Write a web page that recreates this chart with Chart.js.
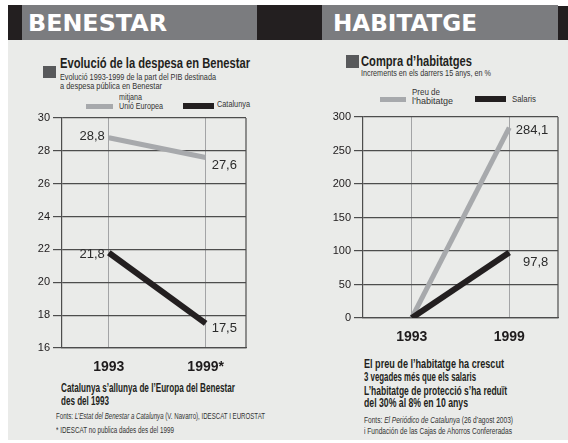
<!DOCTYPE html>
<html lang="ca">
<head>
<meta charset="utf-8">
<title>Benestar i habitatge</title>
<script src="https://cdn.jsdelivr.net/npm/chart.js@4.4.1/dist/chart.umd.min.js"></script>
<style>
  body { margin:0; width:568px; height:443px; background:#fff; position:relative; overflow:hidden;
         font-family:"Liberation Sans Narrow","Liberation Sans",sans-serif; color:#231f20; }
  .b { position:absolute; }
  .t { position:absolute; white-space:nowrap; transform-origin:0 50%; line-height:1; }
  .cap { font-family:"DejaVu Sans",sans-serif; font-weight:bold; color:#fff; font-size:23.5px; }
  .tit { font-weight:bold; font-size:15px; }
  .sub { font-size:9.5px; color:#333; }
  .neg { font-weight:bold; font-size:12.5px; }
  .fon { font-size:8.5px; color:#333; }
  canvas { position:absolute; }
</style>
</head>
<body>
<!-- barres de capçalera -->
<div class="b" style="left:8px;top:5px;width:14px;height:35px;background:#231f20"></div>
<div class="b" style="left:22px;top:5px;width:235px;height:35px;background:#7b7c7f"></div>
<div class="b" style="left:257px;top:5px;width:65px;height:35px;background:#231f20"></div>
<div class="b" style="left:322px;top:5px;width:236px;height:35px;background:#7b7c7f"></div>
<div class="b" style="left:558px;top:6px;width:10px;height:34px;background:#231f20"></div>
<div class="b" style="left:8px;top:40px;width:560px;height:400px;background:#eaebe9"></div>

<span class="t cap" style="left:28px;top:12px" data-w="139">BENESTAR</span>
<span class="t cap" style="left:333px;top:12px" data-w="144">HABITATGE</span>

<!-- BENESTAR -->
<div class="b" style="left:43px;top:66px;width:13px;height:12px;background:#58595b"></div>
<span class="t tit" style="left:60px;top:55px" data-w="190">Evolució de la despesa en Benestar</span>
<span class="t sub" style="left:60px;top:72px" data-w="156">Evolució 1993-1999 de la part del PIB destinada</span>
<span class="t sub" style="left:60px;top:81px" data-w="102">a despesa pública en Benestar</span>
<div class="b" style="left:86px;top:104px;width:27px;height:5px;background:#a7a9ac"></div>
<span class="t sub" style="left:119px;top:92px" data-w="23">mitjana</span>
<span class="t sub" style="left:119px;top:101px" data-w="44">Unió Europea</span>
<div class="b" style="left:183px;top:103px;width:31px;height:6px;background:#231f20"></div>
<span class="t sub" style="left:217px;top:99px" data-w="33">Catalunya</span>

<canvas id="grafBenestar" width="270" height="280" style="left:0;top:100px"></canvas>

<span class="t neg" style="left:61px;top:382px" data-w="174">Catalunya s’allunya de l’Europa del Benestar</span>
<span class="t neg" style="left:61px;top:395px" data-w="48">des del 1993</span>
<span class="t fon" style="left:56px;top:412px" data-w="209">Fonts: <i>L’Estat del Benestar a Catalunya</i> (V. Navarro), IDESCAT I EUROSTAT</span>
<span class="t fon" style="left:56px;top:426px" data-w="118">* IDESCAT no publica dades des del 1999</span>

<!-- HABITATGE -->
<div class="b" style="left:346px;top:55px;width:13px;height:13px;background:#58595b"></div>
<span class="t tit" style="left:361px;top:53px" data-w="111">Compra d’habitatges</span>
<span class="t sub" style="left:361px;top:68px" data-w="130">Increments en els darrers 15 anys, en %</span>
<div class="b" style="left:380px;top:97px;width:26px;height:5px;background:#a7a9ac"></div>
<span class="t sub" style="left:412px;top:87px" data-w="28">Preu de</span>
<span class="t sub" style="left:412px;top:96px" data-w="41">l’habitatge</span>
<div class="b" style="left:475px;top:96px;width:31px;height:6px;background:#231f20"></div>
<span class="t sub" style="left:512px;top:94px" data-w="24">Salaris</span>

<canvas id="grafHabitatge" width="284" height="250" style="left:284px;top:100px"></canvas>

<span class="t neg" style="left:364px;top:358px" data-w="140">El preu de l’habitatge ha crescut</span>
<span class="t neg" style="left:364px;top:371px" data-w="112">3 vegades més que els salaris</span>
<span class="t neg" style="left:364px;top:385px" data-w="143">L’habitatge de protecció s’ha reduït</span>
<span class="t neg" style="left:364px;top:397px" data-w="104">del 30% al 8% en 10 anys</span>
<span class="t fon" style="left:364px;top:416px" data-w="149">Fonts: <i>El Periódico de Catalunya</i> (26 d’agost 2003)</span>
<span class="t fon" style="left:364px;top:427px" data-w="148">i Fundación de las Cajas de Ahorros Confereradas</span>

<script>
// dades
const anys = [1993, 1999];
const etiquetesAnyBenestar = ['1993', '1999*'];
const etiquetesAnyHabitatge = ['1993', '1999'];
const despesaUE = [28.8, 27.6];
const despesaCatalunya = [21.8, 17.5];
const preuHabitatge = [0, 284.1];
const salaris = [0, 97.8];
const ticksBenestar = [16, 18, 20, 22, 24, 26, 28, 30];
const ticksHabitatge = [0, 50, 100, 150, 200, 250, 300];

const GRIS = '#a7a9ac';
const NEGRE = '#231f20';
const LINIA = '#4d4d4d';

// ajusta l'amplada dels textos a la de l'original
document.querySelectorAll('[data-w]').forEach(el => {
  const w = el.getBoundingClientRect().width;
  el.style.transform = 'scaleX(' + (el.dataset.w / w) + ')';
});

function coma(v) {
  return v.toFixed(1).replace('.', ',');
}

function punts(valors) {
  return anys.map((a, i) => ({ x: a, y: valors[i] }));
}

// etiquetes dels valors al costat dels punts
function etiquetes(items) {
  return {
    id: 'etiquetes',
    afterDatasetsDraw(chart) {
      const ctx = chart.ctx;
      ctx.save();
      ctx.font = '13px "Liberation Sans", sans-serif';
      ctx.fillStyle = '#2b2b2b';
      ctx.textBaseline = 'middle';
      items.forEach(it => {
        const el = chart.getDatasetMeta(it.ds).data[it.i];
        const v = chart.data.datasets[it.ds].data[it.i].y;
        ctx.textAlign = it.align;
        ctx.fillText(coma(v), el.x + it.dx, el.y + it.dy);
      });
      ctx.restore();
    }
  };
}

const marcDret = {
  id: 'marcDret',
  beforeDatasetsDraw(chart) {
    const { ctx, chartArea: a } = chart;
    ctx.save();
    ctx.strokeStyle = LINIA;
    ctx.lineWidth = 1.2;
    ctx.beginPath();
    ctx.moveTo(a.right, a.top);
    ctx.lineTo(a.right, a.bottom);
    ctx.stroke();
    ctx.restore();
  }
};

function grafic(id, series, ticksY, etiquetesAny, xmin, xmax, amplY, padding, items) {
  return new Chart(document.getElementById(id), {
    type: 'line',
    data: {
      datasets: series.map(s => ({
        label: s.label,
        data: punts(s.valors),
        borderColor: s.color,
        borderWidth: s.gruix,
        pointRadius: 0,
        fill: false,
        order: s.order
      }))
    },
    options: {
      responsive: false,
      animation: false,
      layout: { padding: padding },
      plugins: { legend: { display: false }, tooltip: { enabled: false } },
      scales: {
        x: {
          type: 'linear',
          min: xmin,
          max: xmax,
          afterBuildTicks: s => { s.ticks = anys.map(v => ({ value: v })); },
          afterFit: s => { s.height = 32; },
          grid: { color: '#a3a4a6', lineWidth: 1, drawTicks: false },
          border: { display: true, color: LINIA, width: 1.2 },
          ticks: {
            padding: 11,
            color: '#1e1b1c',
            font: { family: '"Liberation Sans", sans-serif', size: 14, weight: 'bold' },
            callback: (v, i) => etiquetesAny[i]
          }
        },
        y: {
          min: ticksY[0],
          max: ticksY[ticksY.length - 1],
          afterBuildTicks: s => { s.ticks = ticksY.map(v => ({ value: v })); },
          afterFit: s => { s.width = amplY; },
          grid: { color: LINIA, lineWidth: 1.2, tickLength: 9 },
          border: { display: true, color: LINIA, width: 1.2 },
          ticks: {
            padding: 3,
            color: '#1e1b1c',
            font: { family: '"Liberation Sans", sans-serif', size: 11 },
            callback: v => String(v)
          }
        }
      }
    },
    plugins: [marcDret, etiquetes(items)]
  });
}

grafic('grafBenestar',
  [
    { label: 'mitjana Unió Europea', valors: despesaUE, color: GRIS, gruix: 5, order: 1 },
    { label: 'Catalunya', valors: despesaCatalunya, color: NEGRE, gruix: 6, order: 0 }
  ],
  ticksBenestar, etiquetesAnyBenestar, 1990.1, 2001.5, 62,
  { left: 0, right: 24, top: 18, bottom: 0 },
  [
    { ds: 0, i: 0, dx: -4, dy: -1, align: 'right' },
    { ds: 0, i: 1, dx: 6, dy: 8, align: 'left' },
    { ds: 1, i: 0, dx: -4, dy: 2, align: 'right' },
    { ds: 1, i: 1, dx: 6, dy: 5, align: 'left' }
  ]);

grafic('grafHabitatge',
  [
    { label: 'Preu de l’habitatge', valors: preuHabitatge, color: GRIS, gruix: 5, order: 1 },
    { label: 'Salaris', valors: salaris, color: NEGRE, gruix: 6, order: 0 }
  ],
  ticksHabitatge, etiquetesAnyHabitatge, 1990.0, 2002.0, 79,
  { left: 0, right: 10, top: 17, bottom: 0 },
  [
    { ds: 0, i: 1, dx: 39, dy: 3, align: 'right' },
    { ds: 1, i: 1, dx: 39, dy: 10, align: 'right' }
  ]);
</script>
</body>
</html>
